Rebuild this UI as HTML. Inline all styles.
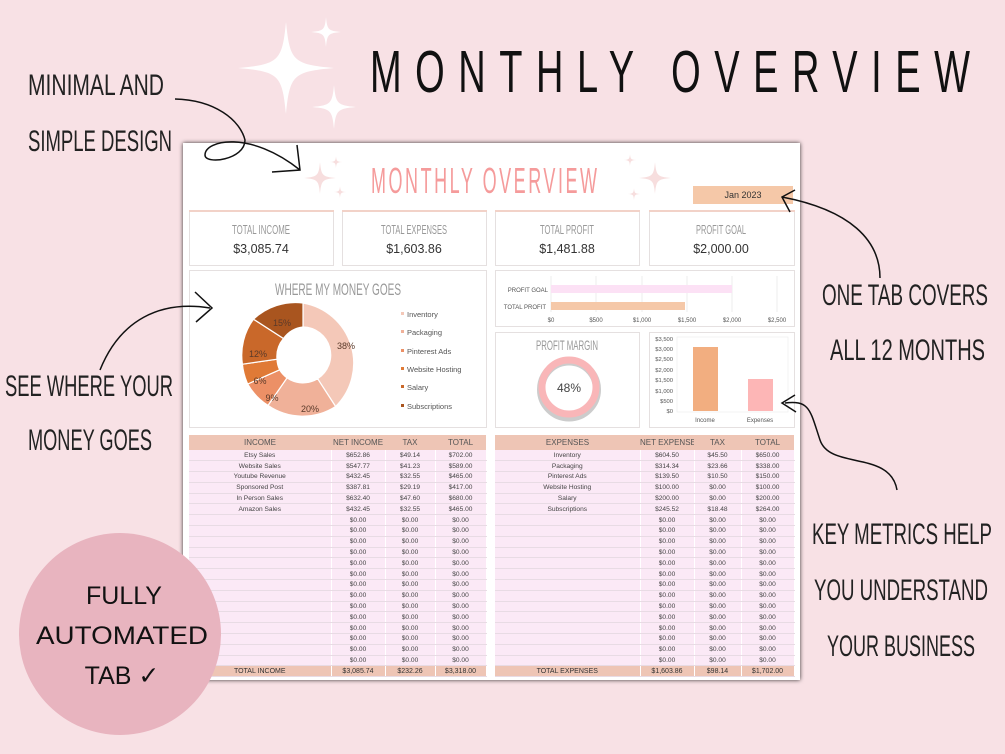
<!DOCTYPE html>
<html><head><meta charset="utf-8"><style>
*{margin:0;padding:0;box-sizing:border-box}
body{width:1005px;height:754px;background:#f8e1e5;position:relative;overflow:hidden;font-family:"Liberation Sans",sans-serif}
svg{position:absolute;left:0;top:0}
table{position:absolute;border-collapse:collapse;font-size:6.6px;color:#444;table-layout:fixed}
td{height:10.8px;text-align:center;background:#fbe9f6;border-bottom:1px solid #e8dbe4;border-right:1px solid #fff;padding:0;line-height:9px;white-space:nowrap;overflow:hidden}
th{height:15px;background:#eec5b5;font-weight:normal;font-family:"Liberation Sans Narrow","Liberation Sans",sans-serif;font-size:8px;color:#555;white-space:nowrap;overflow:hidden;padding:0}
tr.tot td{background:#eec5b5;color:#333;font-size:7px}
</style></head><body>
<svg width="1005" height="754" viewBox="0 0 1005 754">
<defs>
<filter id="sh" x="-5%" y="-5%" width="110%" height="110%"><feDropShadow dx="0" dy="0" stdDeviation="2" flood-color="#000" flood-opacity="0.8"/></filter>
<path id="star" d="M0,-1 C0.08,-0.15 0.15,-0.08 1,0 C0.15,0.08 0.08,0.15 0,1 C-0.08,0.15 -0.15,0.08 -1,0 C-0.15,-0.08 -0.08,-0.15 0,-1Z"/>
</defs>
<use href="#star" transform="translate(286,68) scale(48,46)" fill="#fff"/>
<use href="#star" transform="translate(326,32) scale(15,15)" fill="#fff"/>
<use href="#star" transform="translate(334,107) scale(22,22)" fill="#fff"/>
<text transform="translate(370,92) scale(1,1.55)" x="0" y="0" font-family="Liberation Sans Narrow,Liberation Sans" font-size="38" textLength="600" lengthAdjust="spacing" fill="#111">MONTHLY OVERVIEW</text>
<g font-family="Liberation Sans Narrow,Liberation Sans,sans-serif" fill="#222" font-size="30">
<text x="28" y="95" textLength="136" lengthAdjust="spacingAndGlyphs">MINIMAL AND</text>
<text x="28" y="151" textLength="144" lengthAdjust="spacingAndGlyphs">SIMPLE DESIGN</text>
<text x="5" y="396" textLength="168" lengthAdjust="spacingAndGlyphs">SEE WHERE YOUR</text>
<text x="28" y="450" textLength="124" lengthAdjust="spacingAndGlyphs">MONEY GOES</text>
<text x="822" y="305" textLength="166" lengthAdjust="spacingAndGlyphs">ONE TAB COVERS</text>
<text x="830" y="360" textLength="155" lengthAdjust="spacingAndGlyphs">ALL 12 MONTHS</text>
<text x="812" y="544" textLength="180" lengthAdjust="spacingAndGlyphs">KEY METRICS HELP</text>
<text x="814" y="600" textLength="174" lengthAdjust="spacingAndGlyphs">YOU UNDERSTAND</text>
<text x="827" y="656" textLength="148" lengthAdjust="spacingAndGlyphs">YOUR BUSINESS</text>
</g>
<rect x="183" y="143" width="617" height="537" fill="#fff" filter="url(#sh)"/>
<use href="#star" transform="translate(320,178) scale(16,16)" fill="#f7dede"/>
<use href="#star" transform="translate(336,162) scale(6,6)" fill="#f7dede"/>
<use href="#star" transform="translate(340,192) scale(6,6)" fill="#f7dede"/>
<use href="#star" transform="translate(655,178) scale(16,16)" fill="#f7dede"/>
<use href="#star" transform="translate(630,160) scale(6,6)" fill="#f7dede"/>
<use href="#star" transform="translate(634,194) scale(6,6)" fill="#f7dede"/>
<text transform="translate(371,193) scale(1,2)" font-family="Liberation Sans Narrow,Liberation Sans" font-size="18" fill="#f59b9b" textLength="226" lengthAdjust="spacing">MONTHLY OVERVIEW</text>
<rect x="693" y="186" width="100" height="18" fill="#f5c8a8"/>
<text x="743" y="198" font-size="9" text-anchor="middle" fill="#333" font-family="Liberation Sans">Jan 2023</text>
<g fill="#fff" stroke="#e5e0e0" stroke-width="1">
<rect x="189.5" y="210.5" width="144" height="55"/><rect x="342.5" y="210.5" width="144" height="55"/><rect x="495.5" y="210.5" width="144" height="55"/><rect x="649.5" y="210.5" width="145" height="55"/>
<rect x="189.5" y="270.5" width="297" height="157"/><rect x="495.5" y="270.5" width="299" height="56"/><rect x="495.5" y="332.5" width="144" height="95"/><rect x="649.5" y="332.5" width="145" height="95"/>
</g>
<g fill="#f2d2c8"><rect x="189" y="210" width="145" height="2"/><rect x="342" y="210" width="145" height="2"/><rect x="495" y="210" width="145" height="2"/><rect x="649" y="210" width="146" height="2"/></g>
<g font-family="Liberation Sans Narrow,Liberation Sans" font-size="13" fill="#999" text-anchor="middle">
<text x="261" y="234" textLength="58" lengthAdjust="spacingAndGlyphs">TOTAL INCOME</text>
<text x="414" y="234" textLength="66" lengthAdjust="spacingAndGlyphs">TOTAL EXPENSES</text>
<text x="567" y="234" textLength="54" lengthAdjust="spacingAndGlyphs">TOTAL PROFIT</text>
<text x="721" y="234" textLength="50" lengthAdjust="spacingAndGlyphs">PROFIT GOAL</text>
<text x="338" y="295" font-size="17" textLength="126" lengthAdjust="spacingAndGlyphs">WHERE MY MONEY GOES</text>
<text x="567" y="350" font-size="14" textLength="62" lengthAdjust="spacingAndGlyphs">PROFIT MARGIN</text>
</g>
<g font-family="Liberation Sans" font-size="12.5" fill="#333" text-anchor="middle">
<text x="261" y="253">$3,085.74</text><text x="414" y="253">$1,603.86</text><text x="567" y="253">$1,481.88</text><text x="721" y="253">$2,000.00</text>
</g>
<g stroke="#fff" stroke-width="1.2">
<path d="M303,303 A61,61 0 0 1 335.6,406.5 L317.6,378.7 A28,28 0 0 0 303,327Z" fill="#f4c8b8"/>
<path d="M335.6,406.5 A61,61 0 0 1 268,405.4 L287,377.9 A28,28 0 0 0 317.6,378.7Z" fill="#f0b199"/>
<path d="M268,405.4 A61,61 0 0 1 247.7,384 L279.6,369.8 A28,28 0 0 0 287,377.9Z" fill="#ec9066"/>
<path d="M247.7,384 A61,61 0 0 1 242.4,364.2 L277,359.2 A28,28 0 0 0 279.6,369.8Z" fill="#e07a36"/>
<path d="M242.4,364.2 A61,61 0 0 1 253.5,319.2 L283.5,338.5 A28,28 0 0 0 277,359.2Z" fill="#c9682a"/>
<path d="M253.5,319.2 A61,61 0 0 1 303,303 L303,327 A28,28 0 0 0 283.5,338.5Z" fill="#a9551f"/>
</g>
<g font-family="Liberation Sans" font-size="9" fill="#5a3a2a" text-anchor="middle">
<text x="346" y="349">38%</text><text x="310" y="412">20%</text><text x="272" y="401">9%</text><text x="260" y="384">6%</text><text x="258" y="357">12%</text><text x="282" y="326">15%</text>
</g>
<g font-family="Liberation Sans" font-size="7.5" fill="#555">
<rect x="401" y="312" width="3" height="3" fill="#f4c8b8"/><text x="407" y="317">Inventory</text>
<rect x="401" y="330" width="3" height="3" fill="#f0b199"/><text x="407" y="335">Packaging</text>
<rect x="401" y="349" width="3" height="3" fill="#ec9066"/><text x="407" y="354">Pinterest Ads</text>
<rect x="401" y="367" width="3" height="3" fill="#e07a36"/><text x="407" y="372">Website Hosting</text>
<rect x="401" y="385" width="3" height="3" fill="#c9682a"/><text x="407" y="390">Salary</text>
<rect x="401" y="404" width="3" height="3" fill="#a9551f"/><text x="407" y="409">Subscriptions</text>
</g>
<g stroke="#e6e6e6" stroke-width="0.7"><line x1="551" y1="276" x2="551" y2="312"/><line x1="596" y1="276" x2="596" y2="312"/><line x1="642" y1="276" x2="642" y2="312"/><line x1="687" y1="276" x2="687" y2="312"/><line x1="732" y1="276" x2="732" y2="312"/><line x1="777" y1="276" x2="777" y2="312"/></g>
<rect x="551" y="285" width="181" height="8" fill="#fce1f5"/>
<rect x="551" y="302" width="134" height="8" fill="#f5c8a8"/>
<g font-family="Liberation Sans" font-size="6" fill="#555">
<text x="548" y="292" text-anchor="end">PROFIT GOAL</text><text x="546" y="309" text-anchor="end">TOTAL PROFIT</text>
<g text-anchor="middle"><text x="551" y="322">$0</text><text x="596" y="322">$500</text><text x="642" y="322">$1,000</text><text x="687" y="322">$1,500</text><text x="732" y="322">$2,000</text><text x="777" y="322">$2,500</text></g>
</g>
<circle cx="569" cy="388" r="28" fill="none" stroke="#999" stroke-width="8" opacity="0.5" transform="translate(0,1.5)"/>
<circle cx="569" cy="387" r="27" fill="none" stroke="#f9b6b8" stroke-width="7"/>
<text x="569" y="392" font-family="Liberation Sans" font-size="12" text-anchor="middle" fill="#444">48%</text>
<rect x="677" y="337" width="111" height="75" fill="none" stroke="#eee" stroke-width="0.7"/>
<rect x="693" y="347" width="25" height="64" fill="#f2ae80"/>
<rect x="748" y="379" width="25" height="32" fill="#fdb6b6"/>
<g font-family="Liberation Sans" font-size="5.8" fill="#555" text-anchor="end">
<text x="673" y="341">$3,500</text><text x="673" y="351">$3,000</text><text x="673" y="361">$2,500</text><text x="673" y="372">$2,000</text><text x="673" y="382">$1,500</text><text x="673" y="393">$1,000</text><text x="673" y="403">$500</text><text x="673" y="413">$0</text>
</g>
<g font-family="Liberation Sans" font-size="6" fill="#555" text-anchor="middle"><text x="705" y="422">Income</text><text x="760" y="422">Expenses</text></g>
</svg>

<table style="left:189px;top:435px;width:297px">
<colgroup><col style="width:142px"><col style="width:54px"><col style="width:50px"><col style="width:51px"></colgroup>
<tr><th>INCOME</th><th>NET INCOME</th><th>TAX</th><th>TOTAL</th></tr>
<tr><td>Etsy Sales</td><td>$652.86</td><td>$49.14</td><td>$702.00</td></tr>
<tr><td>Website Sales</td><td>$547.77</td><td>$41.23</td><td>$589.00</td></tr>
<tr><td>Youtube Revenue</td><td>$432.45</td><td>$32.55</td><td>$465.00</td></tr>
<tr><td>Sponsored Post</td><td>$387.81</td><td>$29.19</td><td>$417.00</td></tr>
<tr><td>In Person Sales</td><td>$632.40</td><td>$47.60</td><td>$680.00</td></tr>
<tr><td>Amazon Sales</td><td>$432.45</td><td>$32.55</td><td>$465.00</td></tr>
<tr><td></td><td>$0.00</td><td>$0.00</td><td>$0.00</td></tr>
<tr><td></td><td>$0.00</td><td>$0.00</td><td>$0.00</td></tr>
<tr><td></td><td>$0.00</td><td>$0.00</td><td>$0.00</td></tr>
<tr><td></td><td>$0.00</td><td>$0.00</td><td>$0.00</td></tr>
<tr><td></td><td>$0.00</td><td>$0.00</td><td>$0.00</td></tr>
<tr><td></td><td>$0.00</td><td>$0.00</td><td>$0.00</td></tr>
<tr><td></td><td>$0.00</td><td>$0.00</td><td>$0.00</td></tr>
<tr><td></td><td>$0.00</td><td>$0.00</td><td>$0.00</td></tr>
<tr><td></td><td>$0.00</td><td>$0.00</td><td>$0.00</td></tr>
<tr><td></td><td>$0.00</td><td>$0.00</td><td>$0.00</td></tr>
<tr><td></td><td>$0.00</td><td>$0.00</td><td>$0.00</td></tr>
<tr><td></td><td>$0.00</td><td>$0.00</td><td>$0.00</td></tr>
<tr><td></td><td>$0.00</td><td>$0.00</td><td>$0.00</td></tr>
<tr><td></td><td>$0.00</td><td>$0.00</td><td>$0.00</td></tr>
<tr class="tot"><td>TOTAL INCOME</td><td>$3,085.74</td><td>$232.26</td><td>$3,318.00</td></tr>
</table>

<table style="left:495px;top:435px;width:299px">
<colgroup><col style="width:145px"><col style="width:54px"><col style="width:47px"><col style="width:53px"></colgroup>
<tr><th>EXPENSES</th><th>NET EXPENSE</th><th>TAX</th><th>TOTAL</th></tr>
<tr><td>Inventory</td><td>$604.50</td><td>$45.50</td><td>$650.00</td></tr>
<tr><td>Packaging</td><td>$314.34</td><td>$23.66</td><td>$338.00</td></tr>
<tr><td>Pinterest Ads</td><td>$139.50</td><td>$10.50</td><td>$150.00</td></tr>
<tr><td>Website Hosting</td><td>$100.00</td><td>$0.00</td><td>$100.00</td></tr>
<tr><td>Salary</td><td>$200.00</td><td>$0.00</td><td>$200.00</td></tr>
<tr><td>Subscriptions</td><td>$245.52</td><td>$18.48</td><td>$264.00</td></tr>
<tr><td></td><td>$0.00</td><td>$0.00</td><td>$0.00</td></tr>
<tr><td></td><td>$0.00</td><td>$0.00</td><td>$0.00</td></tr>
<tr><td></td><td>$0.00</td><td>$0.00</td><td>$0.00</td></tr>
<tr><td></td><td>$0.00</td><td>$0.00</td><td>$0.00</td></tr>
<tr><td></td><td>$0.00</td><td>$0.00</td><td>$0.00</td></tr>
<tr><td></td><td>$0.00</td><td>$0.00</td><td>$0.00</td></tr>
<tr><td></td><td>$0.00</td><td>$0.00</td><td>$0.00</td></tr>
<tr><td></td><td>$0.00</td><td>$0.00</td><td>$0.00</td></tr>
<tr><td></td><td>$0.00</td><td>$0.00</td><td>$0.00</td></tr>
<tr><td></td><td>$0.00</td><td>$0.00</td><td>$0.00</td></tr>
<tr><td></td><td>$0.00</td><td>$0.00</td><td>$0.00</td></tr>
<tr><td></td><td>$0.00</td><td>$0.00</td><td>$0.00</td></tr>
<tr><td></td><td>$0.00</td><td>$0.00</td><td>$0.00</td></tr>
<tr><td></td><td>$0.00</td><td>$0.00</td><td>$0.00</td></tr>
<tr class="tot"><td>TOTAL EXPENSES</td><td>$1,603.86</td><td>$98.14</td><td>$1,702.00</td></tr>
</table>

<svg width="1005" height="754" viewBox="0 0 1005 754" style="z-index:5">
<g fill="none" stroke="#111" stroke-width="1.5">
<path d="M175,99 C215,100 240,120 245,140 C245,160 205,165 205,155 C205,140 250,130 300,170"/>
<path d="M272,172 L300,170 L297,145"/>
<path d="M100,370 C120,320 160,300 210,308"/>
<path d="M195,292 L212,308 L196,322"/>
<path d="M880,278 C880,240 850,210 782,197"/>
<path d="M795,190 L782,197 L790,212"/>
<path d="M897,490 C890,450 830,470 820,440 C810,410 810,400 785,403"/>
<path d="M795,395 L782,403 L796,412"/>
</g>
<circle cx="120" cy="634" r="101" fill="#e8b4bf"/>
<g font-family="Liberation Sans" font-size="25" fill="#111" text-anchor="middle">
<text x="124" y="604">FULLY</text><text x="122" y="644" textLength="172" lengthAdjust="spacingAndGlyphs">AUTOMATED</text><text x="122" y="684">TAB ✓</text>
</g>
</svg>
</body></html>
